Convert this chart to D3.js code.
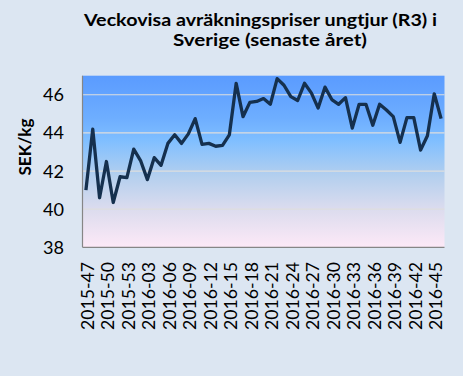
<!DOCTYPE html>
<html><head><meta charset="utf-8">
<script src="https://cdn.jsdelivr.net/npm/d3@7"></script>
<style>html,body{margin:0;padding:0;background:#dce6f2;}svg{display:block;}</style>
</head><body>
<svg id="c" width="463" height="376"></svg>
<script>
const weeks = ["2015-47","2015-48","2015-49","2015-50","2015-51","2015-52","2015-53",
"2016-01","2016-02","2016-03","2016-04","2016-05","2016-06","2016-07","2016-08","2016-09",
"2016-10","2016-11","2016-12","2016-13","2016-14","2016-15","2016-16","2016-17","2016-18",
"2016-19","2016-20","2016-21","2016-22","2016-23","2016-24","2016-25","2016-26","2016-27",
"2016-28","2016-29","2016-30","2016-31","2016-32","2016-33","2016-34","2016-35","2016-36",
"2016-37","2016-38","2016-39","2016-40","2016-41","2016-42","2016-43","2016-44","2016-45","2016-46"];
const prices = [41.0,44.2,40.6,42.5,40.35,41.7,41.65,43.15,42.55,41.55,42.7,42.3,43.45,43.9,43.45,43.95,
44.75,43.4,43.45,43.3,43.35,43.9,46.6,44.85,45.6,45.65,45.8,45.5,46.85,46.5,45.9,45.7,46.6,46.1,
45.3,46.4,45.75,45.5,45.85,44.25,45.5,45.5,44.4,45.5,45.2,44.85,43.5,44.8,44.8,43.1,43.85,46.05,44.75];
const tickLabels = ["2015-47","2015-50","2015-53","2016-03","2016-06","2016-09","2016-12","2016-15",
"2016-18","2016-21","2016-24","2016-27","2016-30","2016-33","2016-36","2016-39","2016-42","2016-45"];
const yTicks = [38,40,42,44,46];
const titleLines = ["Veckovisa avräkningspriser ungtjur (R3) i","Sverige (senaste året)"];
const yTitle = "SEK/kg";

const svg = d3.select("#c");
const L=82.5, R=444.5, T=75.7, B=247.3;
const FONT = "Lato, 'Open Sans', sans-serif";

const defs = svg.append("defs");
const g = defs.append("linearGradient").attr("id","bg").attr("x1",0).attr("y1",0).attr("x2",0).attr("y2",1);
[[0,"#5a9bff"],[0.25,"#6eaeff"],[0.38,"#80bfff"],[0.58,"#b3cfee"],[0.78,"#dcdcee"],[1,"#fde9f7"]]
  .forEach(([o,c])=>g.append("stop").attr("offset",o).attr("stop-color",c));

const x = d3.scaleBand().domain(weeks).range([L,R]);
const y = d3.scaleLinear().domain([38,47]).range([B,T]);

svg.append("rect").attr("x",L).attr("y",T).attr("width",R-L).attr("height",B-T).attr("fill","url(#bg)");

svg.append("g").selectAll("line").data(yTicks.filter(d=>d>38)).join("line")
  .attr("x1",L).attr("x2",R).attr("y1",d=>y(d)).attr("y2",d=>y(d))
  .attr("stroke","#dedede").attr("stroke-width",1.2);

svg.append("line").attr("x1",L).attr("x2",L).attr("y1",T).attr("y2",B).attr("stroke","#868686").attr("stroke-width",1.2);
svg.append("line").attr("x1",L).attr("x2",R).attr("y1",B).attr("y2",B).attr("stroke","#868686").attr("stroke-width",1.2);

svg.append("g").selectAll("text").data(yTicks).join("text")
  .attr("x",64).attr("y",d=>y(d)).attr("dy","0.36em").attr("text-anchor","end")
  .attr("font-family",FONT).attr("font-size",18).attr("fill","#000")
  .attr("textLength",21).attr("lengthAdjust","spacingAndGlyphs")
  .text(d=>d3.format("d")(d));

svg.append("g").selectAll("text").data(tickLabels).join("text")
  .attr("transform",d=>`translate(${x(d)+x.bandwidth()/2+1.5},262) rotate(-90)`)
  .attr("dy","0.36em").attr("text-anchor","end")
  .attr("font-family",FONT).attr("font-size",18).attr("fill","#000")
  .attr("textLength",68).attr("lengthAdjust","spacingAndGlyphs")
  .text(d=>d);

svg.append("text").attr("transform","translate(30.5,147) rotate(-90)")
  .attr("text-anchor","middle").attr("font-family",FONT).attr("font-weight","bold")
  .attr("font-size",17.5).attr("textLength",57).attr("lengthAdjust","spacingAndGlyphs")
  .text(yTitle);

const tpos = [[84,25.5,353],[173,45.7,194]];
titleLines.forEach((t,i)=>{
  svg.append("text").attr("x",tpos[i][0]).attr("y",tpos[i][1])
    .attr("font-family",FONT).attr("font-weight","bold").attr("font-size",17.5)
    .attr("textLength",tpos[i][2]).attr("lengthAdjust","spacingAndGlyphs")
    .attr("fill","#000").text(t);
});

const line = d3.line().x((d,i)=>x(weeks[i])+x.bandwidth()/2).y(d=>y(d));
svg.append("path").datum(prices).attr("d",line).attr("fill","none")
  .attr("stroke","#15304e").attr("stroke-width",3.3).attr("stroke-linejoin","round");
</script>
</body></html>
